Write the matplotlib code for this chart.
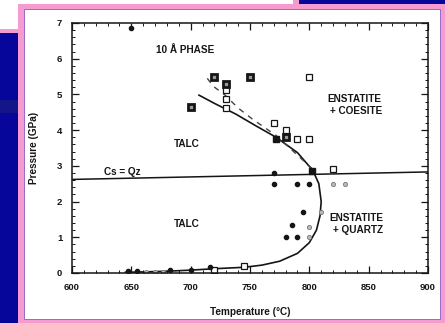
import matplotlib
matplotlib.use("Agg")
import matplotlib.pyplot as plt
from matplotlib.patches import Rectangle
from matplotlib.ticker import MultipleLocator

# talc breakdown curve (solid) and alternative curve (dashed)
curve_T = [707, 720, 738, 755, 772, 790, 803, 808, 810, 809, 806, 800, 790, 775, 760, 745, 720, 700, 680, 660, 645]
curve_P = [4.98, 4.75, 4.45, 4.12, 3.8, 3.37, 2.87, 2.5, 2.0, 1.6, 1.2, 0.85, 0.55, 0.33, 0.22, 0.16, 0.12, 0.08, 0.05, 0.03, 0.02]
dash_T = [714, 719, 729, 740, 752, 772, 790, 803]
dash_P = [5.45, 5.23, 4.98, 4.62, 4.31, 3.85, 3.3, 2.9]

# coesite = quartz reaction
cs_T = [600, 900]
cs_P = [2.62, 2.83]

# experiments: talc + coesite stable (square with dot)
dot_sq_T = [720, 750, 730, 700, 780]
dot_sq_P = [5.5, 5.5, 5.3, 4.65, 3.8]
# enstatite + coesite (open squares)
open_sq_T = [800, 730, 730, 730, 770, 780, 790, 800, 820, 720, 745]
open_sq_P = [5.5, 5.12, 4.87, 4.63, 4.2, 4.0, 3.75, 3.75, 2.9, 0.08, 0.2]
# reversals on the curve (filled squares)
full_sq_T = [772, 802]
full_sq_P = [3.75, 2.85]
# talc + quartz (filled circles)
full_ci_T = [770, 770, 790, 800, 795, 785, 780, 790, 647, 655, 683, 700, 716, 650]
full_ci_P = [2.79, 2.5, 2.5, 2.5, 1.7, 1.35, 1.0, 1.0, 0.06, 0.05, 0.08, 0.08, 0.18, 6.85]
# enstatite + quartz (open circles)
open_ci_T = [820, 830, 800, 800, 810, 662, 670, 677]
open_ci_P = [2.5, 2.5, 1.0, 1.3, 1.7, 0.03, 0.03, 0.04]

W, H = 445, 323
navy = "#06069a"
pink = "#f59bd0"
ink = "#151515"

fig = plt.figure(figsize=(W / 100, H / 100), dpi=100, facecolor=navy)


def box(x0, y0, x1, y1, **kw):
    # rectangle given in pixels from the top-left corner, kept behind the axes
    fig.patches.append(Rectangle((x0 / W, 1 - y1 / H), (x1 - x0) / W, (y1 - y0) / H,
                                 transform=fig.transFigure, zorder=-10, **kw))


box(0, 100, 18, 113, facecolor="#15158a", edgecolor="none")
box(0, 0, 299, 33, facecolor=pink, edgecolor="none")
box(0, 0, 293, 29, facecolor="white", edgecolor="none")
box(18, 4, 445, 323, facecolor=pink, edgecolor="none")
box(24, 9, 440, 319, facecolor="white", edgecolor="#8a5ac8", linewidth=0.6)

ax = fig.add_axes([72 / W, 1 - 273 / H, (428 - 72) / W, (273 - 23) / H])
ax.set_facecolor("white")

ax.plot(cs_T, cs_P, color=ink, lw=1.1)
ax.plot(curve_T, curve_P, color=ink, lw=1.2)
ax.plot(dash_T, dash_P, color="#444444", lw=1.0, dashes=(4, 4))

ax.plot(open_sq_T, open_sq_P, ls="none", marker="s", ms=4.6, mfc="white", mec=ink, mew=0.9)
ax.plot(dot_sq_T, dot_sq_P, ls="none", marker="s", ms=4.6, mfc="#999999", mec=ink, mew=2.0)
ax.plot(full_sq_T, full_sq_P, ls="none", marker="s", ms=5, mfc=ink, mec=ink)
ax.plot(full_ci_T, full_ci_P, ls="none", marker="o", ms=3, mfc=ink, mec=ink)
ax.plot(open_ci_T, open_ci_P, ls="none", marker="o", ms=3, mfc="#bbbbbb", mec="#777777", mew=0.6)

lab = dict(fontsize=7.2, fontweight="bold", family="Liberation Sans", color=ink)
ax.text(695, 6.25, "10 Å PHASE", ha="center", va="center", **lab)
ax.text(697, 3.6, "TALC", ha="center", va="center", **lab)
ax.text(697, 1.37, "TALC", ha="center", va="center", **lab)
ax.text(642, 2.83, "Cs = Qz", ha="center", va="center", **lab)
ax.text(815, 4.88, "ENSTATITE", ha="left", va="center", **lab)
ax.text(817, 4.55, "+ COESITE", ha="left", va="center", **lab)
ax.text(817, 1.53, "ENSTATITE", ha="left", va="center", **lab)
ax.text(820, 1.2, "+ QUARTZ", ha="left", va="center", **lab)

ax.set_xlim(600, 900)
ax.set_ylim(0, 7)
ax.xaxis.set_major_locator(MultipleLocator(50))
ax.xaxis.set_minor_locator(MultipleLocator(10))
ax.yaxis.set_major_locator(MultipleLocator(1))
ax.yaxis.set_minor_locator(MultipleLocator(0.2))
ax.tick_params(which="both", direction="in", top=True, right=True, color=ink,
               labelsize=6.8, labelcolor=ink, pad=7)
ax.tick_params(which="major", length=5, width=0.9)
ax.tick_params(which="minor", length=2.5, width=0.7)
for t in ax.get_xticklabels() + ax.get_yticklabels():
    t.set_fontweight("bold")
    t.set_family("Liberation Sans")
for s in ax.spines.values():
    s.set_color(ink)
    s.set_linewidth(1.1)

ax.set_xlabel("Temperature (°C)", labelpad=11, **lab)
ax.set_ylabel("Pressure (GPa)", labelpad=13, **lab)

fig.savefig("out.png", dpi=100, facecolor=navy)
